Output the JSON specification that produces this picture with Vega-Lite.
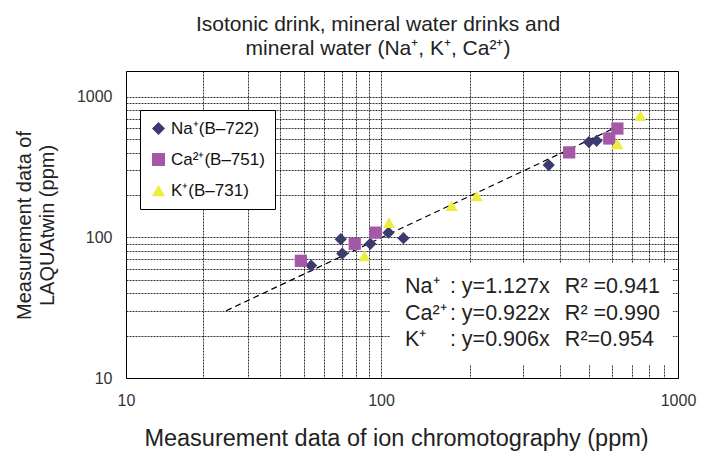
{
  "$schema": "https://vega.github.io/schema/vega-lite/v6.json",
  "width": 552,
  "height": 307,
  "autosize": {"type": "none"},
  "padding": {"left": 126, "top": 71, "right": 36, "bottom": 73},
  "background": "#ffffff",
  "title": {
    "text": ["Isotonic drink, mineral water drinks and", "mineral water (Na⁺, K⁺, Ca²⁺)"],
    "font": "Liberation Sans",
    "fontSize": 21,
    "fontWeight": "normal",
    "color": "#222222",
    "lineHeight": 24,
    "offset": 12,
    "dx": -24,
    "anchor": "middle"
  },
  "config": {
    "view": {"stroke": "#000000", "strokeWidth": 1},
    "font": "Liberation Sans",
    "legend": {
      "orient": "none",
      "legendX": 14,
      "legendY": 39,
      "strokeColor": "#000000",
      "fillColor": "#ffffff",
      "padding": 10,
      "labelFont": "Liberation Sans",
      "labelFontSize": 17,
      "labelColor": "#111111",
      "symbolSize": 170,
      "symbolOpacity": 1,
      "symbolStrokeWidth": 0,
      "rowPadding": 13,
      "labelOffset": 4
    }
  },
  "layer": [
    {
      "data": {"values": [{"x": 24.7, "y": 30.1}, {"x": 609, "y": 597}]},
      "mark": {"type": "line", "strokeDash": [6, 4], "color": "#000000", "strokeWidth": 1.2},
      "encoding": {
        "x": {
          "field": "x",
          "type": "quantitative",
          "scale": {"type": "log", "domain": [10, 100, 1000], "range": [0, 255, 552], "nice": false},
          "axis": {
            "values": [10, 20, 30, 40, 50, 60, 70, 80, 90, 100, 200, 300, 400, 500, 600, 700, 800, 900, 1000],
            "labelExpr": "datum.value == 10 || datum.value == 100 || datum.value == 1000 ? format(datum.value, 'd') : ''",
            "grid": true,
            "gridColor": "#000000",
            "gridDash": [2, 1],
            "gridOpacity": 0.8,
            "ticks": false,
            "domain": false,
            "labelFontSize": 16,
            "labelColor": "#333333",
            "labelPadding": 14,
            "labelOverlap": false,
            "labelFlush": false,
            "labelBound": false,
            "title": "Measurement data of ion chromotography (ppm)",
            "titleFont": "Liberation Sans",
            "titleFontSize": 23.5,
            "titleFontWeight": "normal",
            "titleColor": "#222222",
            "titleX": 270,
            "titleY": 67,
            "titleBaseline": "alphabetic",
            "titleAlign": "center"
          }
        },
        "y": {
          "field": "y",
          "type": "quantitative",
          "scale": {"type": "log", "domain": [10, 1524], "nice": false},
          "axis": {
            "values": [10, 20, 30, 40, 50, 60, 70, 80, 90, 100, 200, 300, 400, 500, 600, 700, 800, 900, 1000],
            "labelExpr": "datum.value == 10 || datum.value == 100 || datum.value == 1000 ? format(datum.value, 'd') : ''",
            "grid": true,
            "gridColor": "#000000",
            "gridDash": [2, 1],
            "gridOpacity": 0.8,
            "ticks": false,
            "domain": false,
            "labelFontSize": 16,
            "labelColor": "#333333",
            "labelPadding": 14,
            "labelOverlap": false,
            "labelFlush": false,
            "labelBound": false,
            "title": ["Measurement data of", "LAQUAtwin (ppm)"],
            "titleFont": "Liberation Sans",
            "titleFontSize": 20,
            "titleFontWeight": "normal",
            "titleColor": "#222222",
            "titleLineHeight": 23,
            "titleX": -112,
            "titleY": 154,
            "titleBaseline": "top",
            "titleAlign": "center"
          }
        }
      }
    },
    {
      "data": {"values": [{}]},
      "mark": {"type": "rect", "fill": "#ffffff"},
      "encoding": {
        "x": {"datum": 107.2, "type": "quantitative"},
        "x2": {"datum": 961},
        "y": {"datum": 65.8, "type": "quantitative"},
        "y2": {"datum": 12.4}
      }
    },
    {
      "data": {"values": [{}]},
      "mark": {"type": "text", "text": ["Na⁺", "Ca²⁺", "K⁺"], "align": "left", "baseline": "alphabetic", "fontSize": 21.5, "lineHeight": 26.5, "font": "Liberation Sans", "color": "#222222"},
      "encoding": {
        "x": {"datum": 120.5, "type": "quantitative"},
        "y": {"datum": 40.1, "type": "quantitative"}
      }
    },
    {
      "data": {"values": [{}]},
      "mark": {"type": "text", "text": [": y=1.127x", ": y=0.922x", ": y=0.906x"], "align": "left", "baseline": "alphabetic", "fontSize": 21.5, "lineHeight": 26.5, "font": "Liberation Sans", "color": "#222222"},
      "encoding": {
        "x": {"datum": 170.6, "type": "quantitative"},
        "y": {"datum": 40.1, "type": "quantitative"}
      }
    },
    {
      "data": {"values": [{}]},
      "mark": {"type": "text", "text": ["R² =0.941", "R² =0.990", "R²=0.954"], "align": "left", "baseline": "alphabetic", "fontSize": 21.5, "lineHeight": 26.5, "font": "Liberation Sans", "color": "#222222"},
      "encoding": {
        "x": {"datum": 416, "type": "quantitative"},
        "y": {"datum": 40.1, "type": "quantitative"}
      }
    },
    {
      "data": {
        "values": [
          {"ion": "Na⁺(B–722)", "x": 53.2, "y": 63.0},
          {"ion": "Na⁺(B–722)", "x": 69.5, "y": 97.0},
          {"ion": "Na⁺(B–722)", "x": 70.5, "y": 76.7},
          {"ion": "Na⁺(B–722)", "x": 90.8, "y": 90.0},
          {"ion": "Na⁺(B–722)", "x": 106, "y": 108},
          {"ion": "Na⁺(B–722)", "x": 119, "y": 98.7},
          {"ion": "Na⁺(B–722)", "x": 367, "y": 327},
          {"ion": "Na⁺(B–722)", "x": 501, "y": 476},
          {"ion": "Na⁺(B–722)", "x": 532, "y": 486},
          {"ion": "Ca²⁺(B–751)", "x": 48.5, "y": 68.1},
          {"ion": "Ca²⁺(B–751)", "x": 78.9, "y": 90.0},
          {"ion": "Ca²⁺(B–751)", "x": 95.3, "y": 108},
          {"ion": "Ca²⁺(B–751)", "x": 430, "y": 402},
          {"ion": "Ca²⁺(B–751)", "x": 587, "y": 505},
          {"ion": "Ca²⁺(B–751)", "x": 625, "y": 594},
          {"ion": "K⁺(B–731)", "x": 86.0, "y": 73.8},
          {"ion": "K⁺(B–731)", "x": 106.4, "y": 127},
          {"ion": "K⁺(B–731)", "x": 173, "y": 168},
          {"ion": "K⁺(B–731)", "x": 210, "y": 197},
          {"ion": "K⁺(B–731)", "x": 625, "y": 462},
          {"ion": "K⁺(B–731)", "x": 747, "y": 733}
        ]
      },
      "mark": {"type": "point", "filled": true, "opacity": 1, "size": 150, "strokeWidth": 0},
      "encoding": {
        "x": {"field": "x", "type": "quantitative"},
        "y": {"field": "y", "type": "quantitative"},
        "color": {
          "field": "ion",
          "type": "nominal",
          "scale": {"domain": ["Na⁺(B–722)", "Ca²⁺(B–751)", "K⁺(B–731)"], "range": ["#3b3b6d", "#a757a8", "#eded3e"]},
          "legend": {"title": null}
        },
        "shape": {
          "field": "ion",
          "type": "nominal",
          "scale": {"domain": ["Na⁺(B–722)", "Ca²⁺(B–751)", "K⁺(B–731)"], "range": ["diamond", "square", "triangle-up"]},
          "legend": {"title": null}
        }
      }
    }
  ]
}
